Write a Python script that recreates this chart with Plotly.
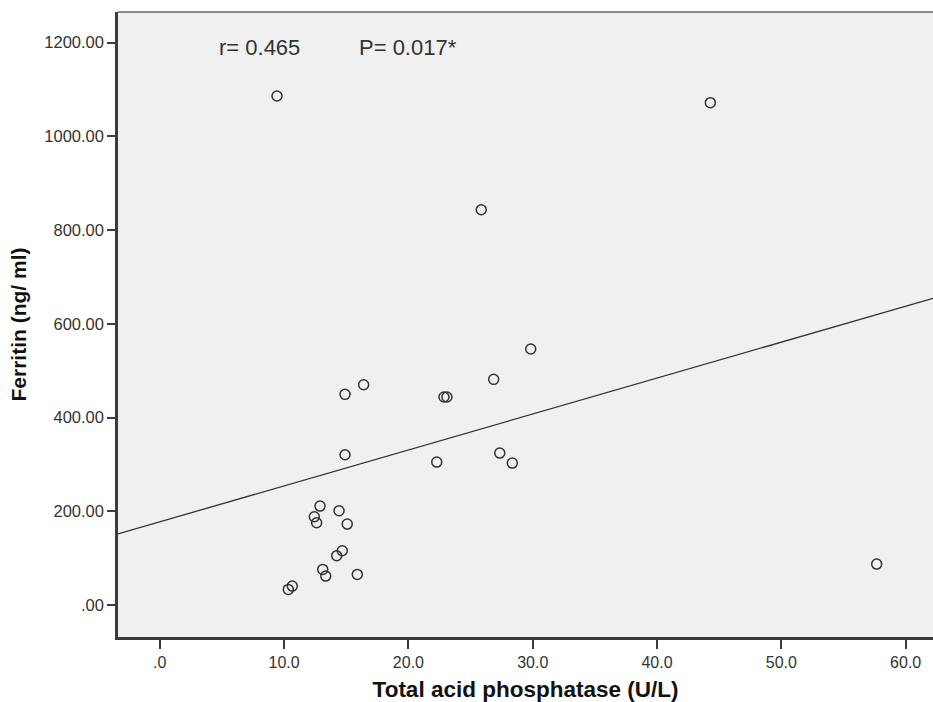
import plotly.graph_objects as go

# Data
acid_phosphatase = [9.43, 44.29, 25.86, 29.84, 26.86, 16.40, 14.90, 22.86, 23.10, 14.90,
                    22.28, 27.35, 28.36, 12.89, 12.43, 12.62, 14.42, 15.08, 14.68, 14.23,
                    13.11, 13.35, 15.89, 10.34, 10.66, 57.67]
ferritin = [1086.3, 1072.0, 843.6, 546.2, 481.5, 470.0, 449.5, 443.8, 443.8, 320.6,
            305.0, 324.2, 302.9, 211.1, 188.3, 175.5, 201.1, 172.7, 115.7, 105.0,
            76.0, 61.7, 65.3, 33.3, 40.3, 87.3]

fit_intercept = 177.5
fit_slope = 7.67

x_tickvals = [0, 10, 20, 30, 40, 50, 60]
x_ticktext = [".0", "10.0", "20.0", "30.0", "40.0", "50.0", "60.0"]
y_tickvals = [0, 200, 400, 600, 800, 1000, 1200]
y_ticktext = [".00", "200.00", "400.00", "600.00", "800.00", "1000.00", "1200.00"]

x_range = [-3.36, 62.2]
y_range = [-68.3, 1265.5]

stat_labels = ["r= 0.465", "P= 0.017*"]
stat_x = [4.6, 15.85]
stat_y = 1190

FONT = "Liberation Sans, Arial, sans-serif"

fig = go.Figure()

fig.add_trace(go.Scatter(
    x=x_range,
    y=[fit_intercept + fit_slope * v for v in x_range],
    mode="lines",
    line=dict(color="#333333", width=1.3),
    hoverinfo="skip",
))

fig.add_trace(go.Scatter(
    x=acid_phosphatase, y=ferritin,
    mode="markers",
    marker=dict(symbol="circle-open", size=10, color="#333333", line=dict(width=1.5)),
))

for lbl, xv in zip(stat_labels, stat_x):
    fig.add_annotation(x=xv, y=stat_y, text=lbl, showarrow=False,
                       xanchor="left", yanchor="middle",
                       font=dict(family=FONT, size=22, color="#333333"))

# lighter top frame line
fig.add_shape(type="line", xref="paper", yref="paper", x0=0, x1=1, y0=1, y1=1,
              line=dict(color="#8a8a8a", width=2))

fig.update_layout(
    width=933, height=702,
    margin=dict(l=118, r=0, t=12, b=65),
    paper_bgcolor="white",
    plot_bgcolor="#f0f0f0",
    showlegend=False,
    font=dict(family=FONT, color="#333333"),
)

fig.update_xaxes(
    range=x_range, tickvals=x_tickvals, ticktext=x_ticktext,
    showgrid=False, zeroline=False,
    showline=True, linecolor="#3c3c3c", linewidth=2.5, mirror=False,
    ticks="outside", ticklen=9, tickwidth=2, tickcolor="#3c3c3c",
    tickfont=dict(size=16, color="#333333"),
    title=dict(text="<b>Total acid phosphatase (U/L)</b>",
               font=dict(size=22.5, color="#111111"), standoff=13),
)
fig.update_yaxes(
    range=y_range, tickvals=y_tickvals, ticktext=y_ticktext,
    showgrid=False, zeroline=False,
    showline=True, linecolor="#3c3c3c", linewidth=2.5, mirror=False,
    ticks="outside", ticklen=8, tickwidth=2, tickcolor="#3c3c3c",
    tickfont=dict(size=16.5, color="#333333"),
    title=dict(text="<b>Ferritin (ng/ ml)</b>",
               font=dict(size=21, color="#111111"), standoff=12),
)

# remove the default page margin so the 933x702 figure fills the window exactly
fig.write_html("out.html",
               config={"displayModeBar": False},
               post_script="document.body.style.margin='0';document.body.style.overflow='hidden';")
